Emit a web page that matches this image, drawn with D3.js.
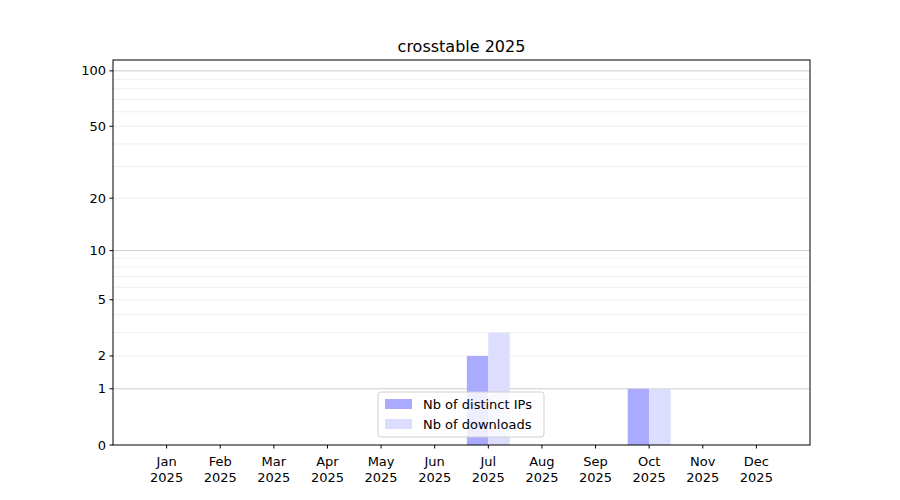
<!DOCTYPE html>
<html>
<head>
<meta charset="UTF-8">
<script src="https://d3js.org/d3.v7.min.js"></script>
<style>
  body { margin: 0; background: #fff; }
  text { font-family: "DejaVu Sans", sans-serif; }
</style>
</head>
<body>
<script>
  const months = ['Jan', 'Feb', 'Mar', 'Apr', 'May', 'Jun', 'Jul', 'Aug', 'Sep', 'Oct', 'Nov', 'Dec']
  const distinctIPs = [0, 0, 0, 0, 0, 0, 2, 0, 0, 1, 0, 0]
  const downloads = [0, 0, 0, 0, 0, 0, 3, 0, 0, 1, 0, 0]
  const yTicks = [0, 1, 2, 5, 10, 20, 50, 100]
  const minorGrid = [2, 3, 4, 5, 6, 7, 8, 9, 20, 30, 40, 50, 60, 70, 80, 90]
  const majorGrid = [1, 10, 100]

  const width = 900, height = 500
  const m = { left: 113, right: 810, top: 60, bottom: 445 }

  const svg = d3.select('body').append('svg').attr('width', width).attr('height', height)

  const x = d3.scaleLinear().domain([-1, 12]).range([m.left, m.right])
  const yLog = d3.scaleLinear().domain([0, Math.log10(1 + 114.5)]).range([m.bottom, m.top])
  const y = v => yLog(Math.log10(1 + v))

  svg.append('g').selectAll('line').data(minorGrid).join('line')
    .attr('x1', m.left).attr('x2', m.right)
    .attr('y1', d => y(d)).attr('y2', d => y(d))
    .attr('stroke', '#ebebeb').attr('stroke-width', 0.8)
  svg.append('g').selectAll('line').data(majorGrid).join('line')
    .attr('x1', m.left).attr('x2', m.right)
    .attr('y1', d => y(d)).attr('y2', d => y(d))
    .attr('stroke', '#cccccc').attr('stroke-width', 1)

  const bw = 0.4
  svg.append('g').selectAll('rect').data(distinctIPs).join('rect')
    .attr('x', (d, i) => x(i - bw)).attr('width', x(bw) - x(0))
    .attr('y', d => y(d)).attr('height', d => m.bottom - y(d))
    .attr('fill', '#aaaaff')
  svg.append('g').selectAll('rect').data(downloads).join('rect')
    .attr('x', (d, i) => x(i)).attr('width', x(bw) - x(0))
    .attr('y', d => y(d)).attr('height', d => m.bottom - y(d))
    .attr('fill', '#ddddff')

  svg.append('rect').attr('x', m.left).attr('y', m.top)
    .attr('width', m.right - m.left).attr('height', m.bottom - m.top)
    .attr('fill', 'none').attr('stroke', '#000').attr('stroke-width', 1)

  // y ticks
  const yt = svg.append('g')
  yt.selectAll('line').data(yTicks).join('line')
    .attr('x1', m.left - 3.5).attr('x2', m.left)
    .attr('y1', d => y(d)).attr('y2', d => y(d)).attr('stroke', '#000')
  yt.selectAll('text').data(yTicks).join('text')
    .attr('x', m.left - 7).attr('y', d => y(d)).attr('dy', '0.35em')
    .attr('text-anchor', 'end').attr('font-size', 13).text(d => d)

  // x ticks
  const xt = svg.append('g')
  xt.selectAll('line').data(months).join('line')
    .attr('x1', (d, i) => x(i)).attr('x2', (d, i) => x(i))
    .attr('y1', m.bottom).attr('y2', m.bottom + 3.5).attr('stroke', '#000')
  const lbl = xt.selectAll('text').data(months).join('text')
    .attr('text-anchor', 'middle').attr('font-size', 13)
  lbl.append('tspan').attr('x', (d, i) => x(i)).attr('y', m.bottom + 21).text(d => d)
  lbl.append('tspan').attr('x', (d, i) => x(i)).attr('y', m.bottom + 37).text('2025')

  svg.append('text').attr('x', (m.left + m.right) / 2).attr('y', 52)
    .attr('text-anchor', 'middle').attr('font-size', 16).text('crosstable 2025')

  // legend
  const lg = svg.append('g').attr('transform', 'translate(378,392)')
  lg.append('rect').attr('width', 166).attr('height', 45).attr('rx', 3)
    .attr('fill', 'rgba(255,255,255,0.8)').attr('stroke', '#d0d0d0')
  const items = [['Nb of distinct IPs', '#aaaaff'], ['Nb of downloads', '#ddddff']]
  items.forEach(([t, c], i) => {
    lg.append('rect').attr('x', 7).attr('y', 7 + i * 20).attr('width', 27).attr('height', 10).attr('fill', c)
    lg.append('text').attr('x', 45).attr('y', 12 + i * 20).attr('dy', '0.35em')
      .attr('font-size', 13).text(t)
  })
</script>
</body>
</html>
